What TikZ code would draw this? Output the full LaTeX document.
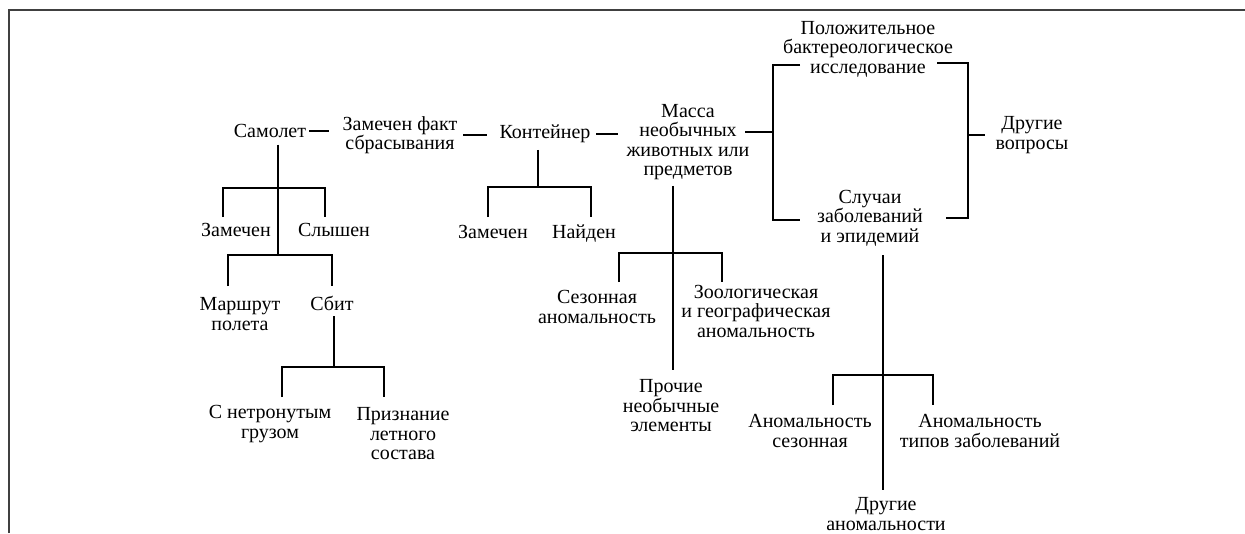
\documentclass[tikz,border=0pt]{standalone}
\usepackage{fontspec}
\setmainfont{Liberation Serif}
\begin{document}
\begin{tikzpicture}[x=1pt,y=-1pt,line width=2pt,
    lbl/.style={align=center,inner sep=2pt,font=\fontsize{20}{19.5}\selectfont}]
\useasboundingbox (0,0) rectangle (1245,533);
\draw[black!75,line width=2pt] (9,533) -- (9,10) -- (1245,10);

\node[lbl] (samolet) at (270,131) {Самолет};
\node[lbl] (zamfakt) at (400,135) {Замечен факт\\сбрасывания};
\node[lbl] (kont) at (545,134) {Контейнер};
\node[lbl] (massa) at (688,142) {Масса\\необычных\\животных или\\предметов};
\node[lbl] (polozh) at (868,49) {Положительное\\бактереологическое\\исследование};
\node[lbl] (sluch) at (870,218) {Случаи\\заболеваний\\и эпидемий};
\node[lbl] (drugvopr) at (1032,135) {Другие\\вопросы};
\node[lbl] (zamsam) at (236,230) {Замечен};
\node[lbl] (slysh) at (334,230) {Слышен};
\node[lbl] (marsh) at (240,314) {Маршрут\\полета};
\node[lbl] (sbit) at (332,303) {Сбит};
\node[lbl] (netr) at (270,424) {С нетронутым\\грузом};
\node[lbl] (prizn) at (403,434) {Признание\\летного\\состава};
\node[lbl] (zamkont) at (493,232) {Замечен};
\node[lbl] (naid) at (584,234) {Найден};
\node[lbl] (sezon) at (597,307) {Сезонная\\аномальность};
\node[lbl] (zool) at (756,311) {Зоологическая\\и географическая\\аномальность};
\node[lbl] (proch) at (671,406) {Прочие\\необычные\\элементы};
\node[lbl] (anomsez) at (810,431) {Аномальность\\сезонная};
\node[lbl] (anomtip) at (980,431) {Аномальность\\типов заболеваний};
\node[lbl] (drugan) at (886,514) {Другие\\аномальности};

\draw[shorten >=11pt] (samolet.east) -- (samolet.east -| zamfakt.west);
\draw[shorten <=3pt,shorten >=10pt] (zamfakt.east) -- (zamfakt.east -| kont.west);
\draw[shorten <=3pt,shorten >=6pt] (kont.east) -- (kont.east -| massa.west);

\coordinate (bl) at (773,132);
\coordinate (bt) at (773,65);
\coordinate (bb) at (773,220);
\draw[shorten <=-7pt] (massa.east |- bl) -- (bl);
\draw ([xshift=27pt]bt) -- (bt) -- (bb) -- ([xshift=27pt]bb);

\coordinate (rt) at (968,63);
\coordinate (rb) at (968,218);
\draw ([xshift=-31pt]rt) -- (rt) -- (rb) -- ([xshift=-22pt]rb);
\draw[shorten >=8pt] (rt |- drugvopr.west) -- (drugvopr.west);

\coordinate (sj1) at (278,188);
\coordinate (sj2) at (278,255);
\coordinate (sa) at (223,217);
\coordinate (sb) at (325,217);
\coordinate (sc) at (228,286);
\coordinate (sd) at (332,286);
\draw[shorten <=4pt] (samolet.south -| sj1) -- (sj2);
\draw (sa) |- (sj1) -| (sb);
\draw (sc) |- (sj2) -| (sd);

\coordinate (bj) at (334,367);
\coordinate (be) at (282,397);
\coordinate (bf) at (384,397);
\draw[shorten <=3pt] (sbit.south -| bj) -- (bj);
\draw (be) |- (bj) -| (bf);

\coordinate (kj) at (538,187);
\coordinate (ka) at (488,217);
\coordinate (kb) at (591,217);
\draw[shorten <=4pt] (kont.south -| kj) -- (kj);
\draw (ka) |- (kj) -| (kb);

\coordinate (mj) at (673,253);
\coordinate (mt) at (673,370);
\coordinate (ma) at (619,282);
\coordinate (mb) at (722,282);
\draw[shorten <=3pt] (massa.south -| mj) -- (mt);
\draw (ma) |- (mj) -| (mb);

\coordinate (cj) at (883,375);
\coordinate (ct) at (883,490);
\coordinate (ca) at (833,405);
\coordinate (cb) at (933,405);
\draw[shorten <=6pt] (sluch.south -| cj) -- (ct);
\draw (ca) |- (cj) -| (cb);
\end{tikzpicture}
\end{document}
